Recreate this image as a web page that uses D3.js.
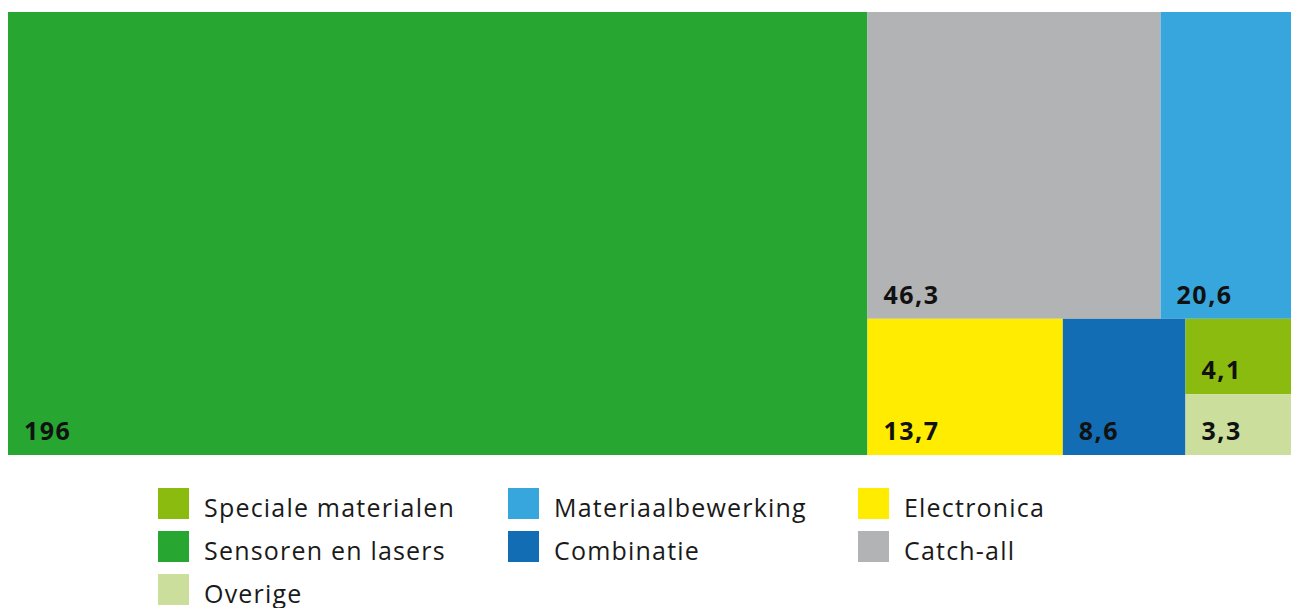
<!DOCTYPE html>
<html>
<head>
<meta charset="utf-8">
<script src="https://cdn.jsdelivr.net/npm/d3@7.9.0/dist/d3.min.js"></script>
<style>
  body { margin: 0; background: #fff; }
  svg { display: block; font-family: "Open Sans", Lato, sans-serif; }
</style>
</head>
<body>
<svg id="chart" width="1291" height="608"></svg>
<script>
// data
const categories = ['Sensoren en lasers', 'Catch-all', 'Materiaalbewerking', 'Electronica', 'Combinatie', 'Speciale materialen', 'Overige'];
const values = [196, 46.3, 20.6, 13.7, 8.6, 4.1, 3.3];
const colors = ['#27a631', '#b1b3b4', '#36a6dd', '#ffec00', '#126db4', '#8bbb0e', '#cbde9c'];
const legendOrder = ['Speciale materialen', 'Materiaalbewerking', 'Electronica', 'Sensoren en lasers', 'Combinatie', 'Catch-all', 'Overige'];

const svg = d3.select('#chart');
const color = d3.scaleOrdinal().domain(categories).range(colors);
const fmt = v => String(v).replace('.', ',');

// squarify like d3 does, but the last row is laid along the longer side
function tile(parent, x0, y0, x1, y1) {
  const nodes = parent.children, n = nodes.length;
  const ratio = (1 + Math.sqrt(5)) / 2;
  let value = parent.value, i0 = 0, i1 = 0;
  while (i0 < n) {
    const dx = x1 - x0, dy = y1 - y0;
    let sumValue = nodes[i1++].value, minValue = sumValue, maxValue = sumValue;
    const alpha = Math.max(dy / dx, dx / dy) / (value * ratio);
    let beta = sumValue * sumValue * alpha;
    let minRatio = Math.max(maxValue / beta, beta / minValue);
    for (; i1 < n; ++i1) {
      const v = nodes[i1].value;
      sumValue += v;
      minValue = Math.min(minValue, v);
      maxValue = Math.max(maxValue, v);
      beta = sumValue * sumValue * alpha;
      const newRatio = Math.max(maxValue / beta, beta / minValue);
      if (newRatio > minRatio) { sumValue -= v; break; }
      minRatio = newRatio;
    }
    const row = { value: sumValue, children: nodes.slice(i0, i1) };
    const last = i1 >= n;
    let dice = dx < dy;
    if (last) dice = !dice;
    if (dice) d3.treemapDice(row, x0, y0, x1, last ? y1 : (y0 += dy * sumValue / value));
    else d3.treemapSlice(row, x0, y0, last ? x1 : (x0 += dx * sumValue / value), y1);
    value -= sumValue;
    i0 = i1;
  }
}

const root = d3.hierarchy({ children: categories.map((c, i) => ({ name: c, value: values[i] })) })
  .sum(d => d.value)
  .sort((a, b) => b.value - a.value);

d3.treemap()
  .tile(tile)
  .size([1283, 443])(root);

const g = svg.append('g').attr('transform', 'translate(8,12)');

const cell = g.selectAll('g.cell')
  .data(root.leaves())
  .join('g')
  .attr('class', 'cell')
  .attr('transform', d => `translate(${d.x0},${d.y0})`);

cell.append('rect')
  .attr('width', d => d.x1 - d.x0)
  .attr('height', d => d.y1 - d.y0)
  .attr('fill', d => color(d.data.name));

cell.append('text')
  .attr('x', 16)
  .attr('y', d => d.y1 - d.y0 - 15)
  .attr('font-size', 25)
  .attr('font-weight', 'bold')
  .attr('letter-spacing', 1.5)
  .attr('fill', '#111')
  .text(d => fmt(d.data.value));

// legend, three columns
const legend = svg.append('g').attr('transform', 'translate(158,488)');
const item = legend.selectAll('g')
  .data(legendOrder)
  .join('g')
  .attr('transform', (d, i) => `translate(${(i % 3) * 350},${Math.floor(i / 3) * 43})`);

item.append('rect')
  .attr('width', 31)
  .attr('height', 31)
  .attr('fill', d => color(d));

item.append('text')
  .attr('x', 46)
  .attr('y', 29)
  .attr('font-size', 25)
  .attr('letter-spacing', 1.2)
  .attr('fill', '#1a1a1a')
  .text(d => d);
</script>
</body>
</html>
